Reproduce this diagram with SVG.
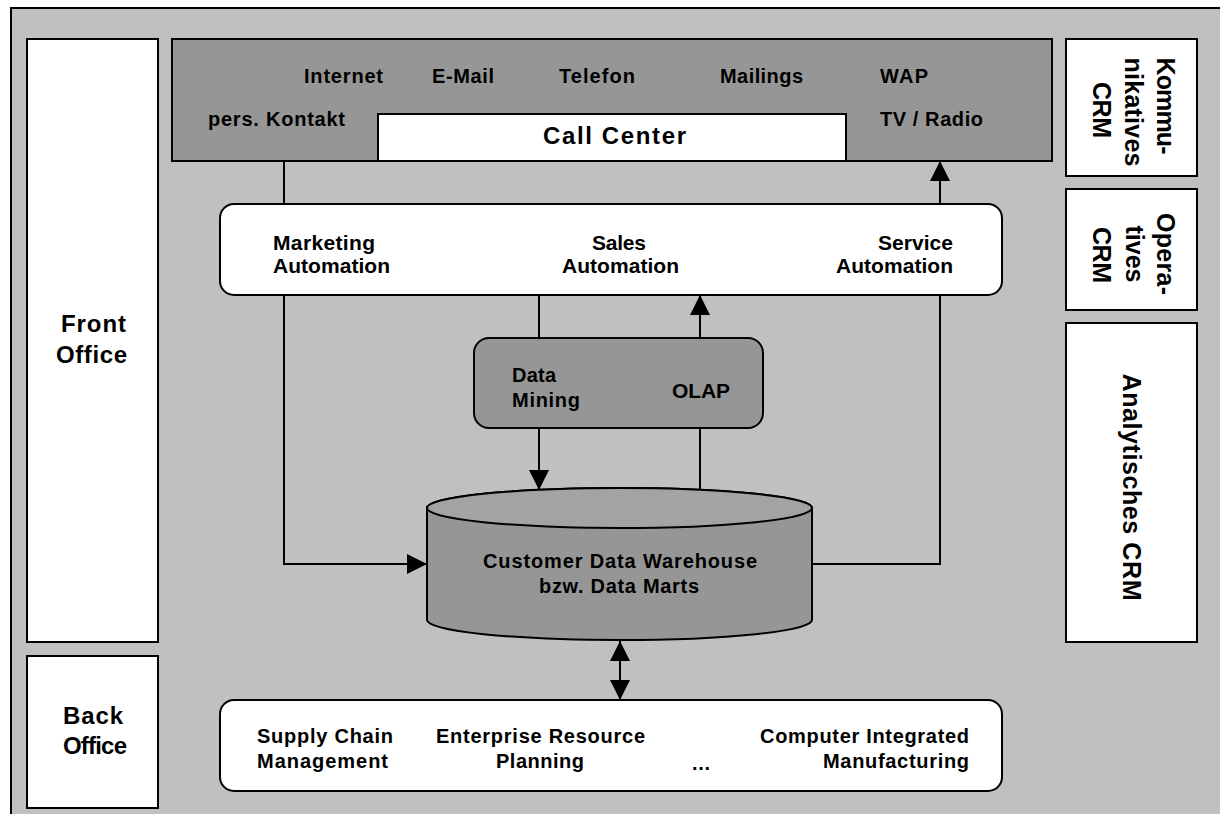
<svg xmlns="http://www.w3.org/2000/svg" width="1220" height="814" viewBox="0 0 1220 814">
<style>
.box{stroke:#000;stroke-width:2}
.w{fill:#fff}
.g{fill:#969696}
.t{font-family:"Liberation Sans",Arial,sans-serif;font-weight:bold;fill:#000}
.s20{font-size:20px}
.s21{font-size:21px}
.s24{font-size:24px}
.s25{font-size:25px}
.c{fill:none;stroke:#000;stroke-width:2}
</style>
<defs>
<marker id="ah" viewBox="0 0 10 10" refX="10" refY="5" markerUnits="userSpaceOnUse" markerWidth="20" markerHeight="21" orient="auto-start-reverse">
<path d="M0,0 L10,5 L0,10 z" fill="#000"/>
</marker>
</defs>
<rect width="1220" height="814" fill="#fff"/>
<rect id="frame" x="11" y="8" width="1240" height="830" fill="#c0c0c0" stroke="#000" stroke-width="2"/>

<g id="front-office">
<rect class="box w" x="27" y="39" width="131" height="603"/>
<text class="t s24" x="61" y="332" textLength="65" lengthAdjust="spacing">Front</text>
<text class="t s24" x="56" y="363" textLength="71" lengthAdjust="spacing">Office</text>
</g>
<g id="back-office">
<rect class="box w" x="27" y="656" width="131" height="152"/>
<text class="t s24" x="63" y="724" textLength="60" lengthAdjust="spacing">Back</text>
<text class="t s24" x="63" y="754" textLength="64" lengthAdjust="spacing">Office</text>
</g>

<g id="channels">
<rect class="box g" x="172" y="39" width="880" height="122"/>
<text class="t s20" x="304" y="83" textLength="79" lengthAdjust="spacing">Internet</text>
<text class="t s20" x="432" y="83" textLength="62" lengthAdjust="spacing">E-Mail</text>
<text class="t s20" x="559" y="83" textLength="76" lengthAdjust="spacing">Telefon</text>
<text class="t s20" x="720" y="83" textLength="83" lengthAdjust="spacing">Mailings</text>
<text class="t s20" x="880" y="83" textLength="48" lengthAdjust="spacing">WAP</text>
<text class="t s20" x="208" y="126" textLength="137" lengthAdjust="spacing">pers. Kontakt</text>
<text class="t s20" x="880" y="126" textLength="103" lengthAdjust="spacing">TV / Radio</text>
</g>
<g id="call-center">
<rect class="box w" x="378" y="114" width="468" height="47"/>
<text class="t s24" x="543" y="144" textLength="143" lengthAdjust="spacing">Call Center</text>
</g>

<g id="kommunikatives-crm">
<rect class="box w" x="1066" y="39" width="131" height="137"/>
<text class="t s25" transform="translate(1157,106) rotate(90)" text-anchor="middle" textLength="97" lengthAdjust="spacing">Kommu-</text>
<text class="t s25" transform="translate(1125,112) rotate(90)" text-anchor="middle" textLength="109" lengthAdjust="spacing">nikatives</text>
<text class="t s25" transform="translate(1093,110) rotate(90)" text-anchor="middle" textLength="56" lengthAdjust="spacing">CRM</text>
</g>
<g id="operatives-crm">
<rect class="box w" x="1066" y="189" width="131" height="121"/>
<text class="t s25" transform="translate(1157,254) rotate(90)" text-anchor="middle" textLength="82" lengthAdjust="spacing">Opera-</text>
<text class="t s25" transform="translate(1126,254) rotate(90)" text-anchor="middle" textLength="57" lengthAdjust="spacing">tives</text>
<text class="t s25" transform="translate(1093,255) rotate(90)" text-anchor="middle" textLength="56" lengthAdjust="spacing">CRM</text>
</g>
<g id="analytisches-crm">
<rect class="box w" x="1066" y="323" width="131" height="319"/>
<text class="t s25" transform="translate(1123,487) rotate(90)" text-anchor="middle" textLength="227" lengthAdjust="spacing">Analytisches  CRM</text>
</g>

<g id="automation">
<rect class="box w" x="220" y="204" width="782" height="91" rx="14" ry="14"/>
<text class="t s21" x="273" y="250" textLength="102" lengthAdjust="spacing">Marketing</text>
<text class="t s21" x="273" y="273" textLength="117" lengthAdjust="spacing">Automation</text>
<text class="t s21" x="592" y="250" textLength="54" lengthAdjust="spacing">Sales</text>
<text class="t s21" x="562" y="273" textLength="117" lengthAdjust="spacing">Automation</text>
<text class="t s21" x="878" y="250" textLength="75" lengthAdjust="spacing">Service</text>
<text class="t s21" x="836" y="273" textLength="117" lengthAdjust="spacing">Automation</text>
</g>

<g id="analysis">
<rect class="box g" x="474" y="338" width="289" height="90" rx="15" ry="15"/>
<text class="t s20" x="512" y="382" textLength="44" lengthAdjust="spacing">Data</text>
<text class="t s20" x="512" y="407" textLength="68" lengthAdjust="spacing">Mining</text>
<text class="t s21" x="672" y="398" textLength="58" lengthAdjust="spacing">OLAP</text>
</g>

<g id="data-warehouse">
<path class="box g" d="M427,508 V620 A192.5,20 0 0 0 812,620 V508 A192.5,20 0 0 0 427,508 z"/>
<ellipse class="box" cx="619.5" cy="508" rx="192.5" ry="20" fill="#a3a3a3"/>
<text class="t s20" x="483" y="568" textLength="274" lengthAdjust="spacing">Customer Data Warehouse</text>
<text class="t s20" x="539" y="593" textLength="160" lengthAdjust="spacing">bzw. Data Marts</text>
</g>

<g id="back-systems">
<rect class="box w" x="220" y="700" width="782" height="91" rx="14" ry="14"/>
<text class="t s20" x="257" y="743" textLength="136" lengthAdjust="spacing">Supply Chain</text>
<text class="t s20" x="257" y="768" textLength="131" lengthAdjust="spacing">Management</text>
<text class="t s20" x="436" y="743" textLength="209" lengthAdjust="spacing">Enterprise Resource</text>
<text class="t s20" x="496" y="768" textLength="88" lengthAdjust="spacing">Planning</text>
<text class="t s20" x="692" y="770" textLength="18" lengthAdjust="spacing">...</text>
<text class="t s20" x="760" y="743" textLength="209" lengthAdjust="spacing">Computer Integrated</text>
<text class="t s20" x="823" y="768" textLength="146" lengthAdjust="spacing">Manufacturing</text>
</g>

<g id="connectors">
<path class="c" d="M284,161 V204"/>
<path class="c" d="M284,295 V564 H427" marker-end="url(#ah)"/>
<path class="c" d="M812,564 H940 V295"/>
<path class="c" d="M940,204 V161" marker-end="url(#ah)"/>
<path class="c" d="M539,295 V338"/>
<path class="c" d="M539,428 V490" marker-end="url(#ah)"/>
<path class="c" d="M700,490 V428"/>
<path class="c" d="M700,338 V295" marker-end="url(#ah)"/>
<path class="c" d="M620,641 V700" marker-start="url(#ah)" marker-end="url(#ah)"/>
</g>
</svg>
